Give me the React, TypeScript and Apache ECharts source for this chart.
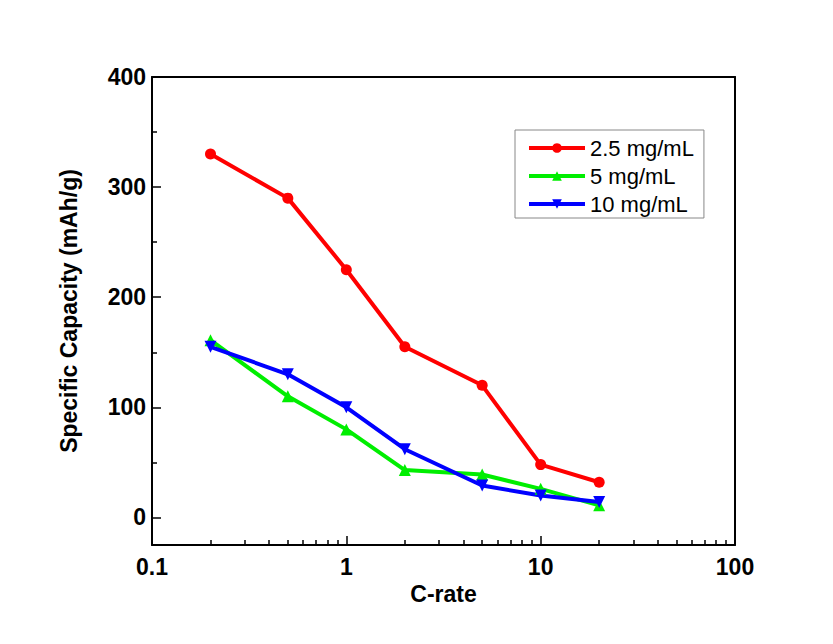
import React, { useEffect, useRef } from "react";
import * as echarts from "echarts";

const cRates = [0.2, 0.5, 1, 2, 5, 10, 20];
const cap25 = [330, 290, 225, 155, 120, 48, 32];
const cap5 = [161, 110, 80, 43, 39, 26, 11];
const cap10 = [155, 130, 100, 62, 29, 20, 14];
const xMajorTicks = [0.1, 1, 10, 100];
const xMinorTicks = [0.2, 0.3, 0.4, 0.5, 0.6, 0.7, 0.8, 0.9, 2, 3, 4, 5, 6, 7, 8, 9, 20, 30, 40, 50, 60, 70, 80, 90];
const yMajorTicks = [0, 100, 200, 300, 400];
const yMinorTicks = [50, 150, 250, 350];

const FONT = "Liberation Sans, Arial, sans-serif";

export default function App() {
  const ref = useRef<HTMLDivElement>(null);
  useEffect(() => {
    if (!ref.current) return;
    const chart = echarts.init(ref.current, null, { renderer: "svg" });
    const pair = (vals: number[]) => cRates.map((c, i) => [c, vals[i]]);
    const lineCol = "#000";
    const xBase = { type: "log", logBase: 10, min: 0.1, max: 100, splitLine: { show: false } };
    const yBase = { type: "value", min: -25, max: 400, splitLine: { show: false } };
    const tickAxisX = (vals: number[], len: number) => ({
      ...xBase,
      position: "bottom",
      axisLine: { show: false, onZero: false },
      axisTick: { show: true, inside: true, length: len, customValues: vals, lineStyle: { color: lineCol, width: 1.5 } },
      axisLabel: { show: false },
    });
    const tickAxisY = (vals: number[], len: number) => ({
      ...yBase,
      position: "left",
      axisLine: { show: false, onZero: false },
      axisTick: { show: true, inside: true, length: len, customValues: vals, lineStyle: { color: lineCol, width: 1.5 } },
      axisLabel: { show: false },
    });
    chart.setOption({
      animation: false,
      backgroundColor: "#fff",
      grid: { left: 152, right: 98, top: 77, bottom: 99, show: false },
      legend: {
        left: 515,
        top: 130,
        orient: "vertical",
        borderColor: "#888",
        borderWidth: 1,
        borderRadius: 0,
        padding: [7, 10, 3, 12],
        itemGap: 6,
        itemWidth: 56,
        itemHeight: 12,
        lineStyle: { width: 4 },
        textStyle: { fontSize: 22, fontFamily: FONT, color: "#000" },
        data: ["2.5 mg/mL", "5 mg/mL", "10 mg/mL"],
      },
      xAxis: [
        {
          ...xBase,
          name: "C-rate",
          nameLocation: "middle",
          nameGap: 36,
          nameTextStyle: { fontSize: 23, fontWeight: "bold", fontFamily: FONT, color: "#000" },
          axisLine: { show: true, onZero: false, lineStyle: { color: lineCol, width: 2 } },
          axisTick: { show: false },
          axisLabel: {
            customValues: xMajorTicks,
            margin: 10,
            fontSize: 23,
            fontWeight: "bold",
            fontFamily: FONT,
            color: "#000",
            formatter: (v: number) => String(v),
          },
        },
        tickAxisX(xMajorTicks, 9),
        tickAxisX(xMinorTicks, 5),
        {
          ...xBase,
          position: "top",
          axisLine: { show: true, onZero: false, lineStyle: { color: lineCol, width: 2 } },
          axisTick: { show: false },
          axisLabel: { show: false },
        },
      ],
      yAxis: [
        {
          ...yBase,
          name: "Specific Capacity (mAh/g)",
          nameLocation: "middle",
          nameGap: 72,
          nameTextStyle: { fontSize: 23, fontWeight: "bold", fontFamily: FONT, color: "#000" },
          axisLine: { show: true, onZero: false, lineStyle: { color: lineCol, width: 2 } },
          axisTick: { show: false },
          axisLabel: {
            customValues: yMajorTicks,
            margin: 6,
            fontSize: 23,
            fontWeight: "bold",
            fontFamily: FONT,
            color: "#000",
          },
        },
        tickAxisY(yMajorTicks, 9),
        tickAxisY(yMinorTicks, 5),
        {
          ...yBase,
          position: "right",
          axisLine: { show: true, onZero: false, lineStyle: { color: lineCol, width: 2 } },
          axisTick: { show: false },
          axisLabel: { show: false },
        },
      ],
      series: [
        {
          name: "2.5 mg/mL",
          type: "line",
          data: pair(cap25),
          symbol: "circle",
          symbolSize: 11,
          lineStyle: { color: "#ff0000", width: 4 },
          itemStyle: { color: "#ff0000" },
        },
        {
          name: "5 mg/mL",
          type: "line",
          data: pair(cap5),
          symbol: "triangle",
          symbolSize: 12,
          lineStyle: { color: "#00ee00", width: 4 },
          itemStyle: { color: "#00ee00" },
        },
        {
          name: "10 mg/mL",
          type: "line",
          data: pair(cap10),
          symbol: "triangle",
          symbolRotate: 180,
          symbolSize: 12,
          lineStyle: { color: "#0000ff", width: 4 },
          itemStyle: { color: "#0000ff" },
        },
      ],
    });
    return () => chart.dispose();
  }, []);
  return (
    <div
      ref={ref}
      style={{ position: "absolute", left: 0, top: 0, width: 833, height: 644, background: "#fff" }}
    />
  );
}
